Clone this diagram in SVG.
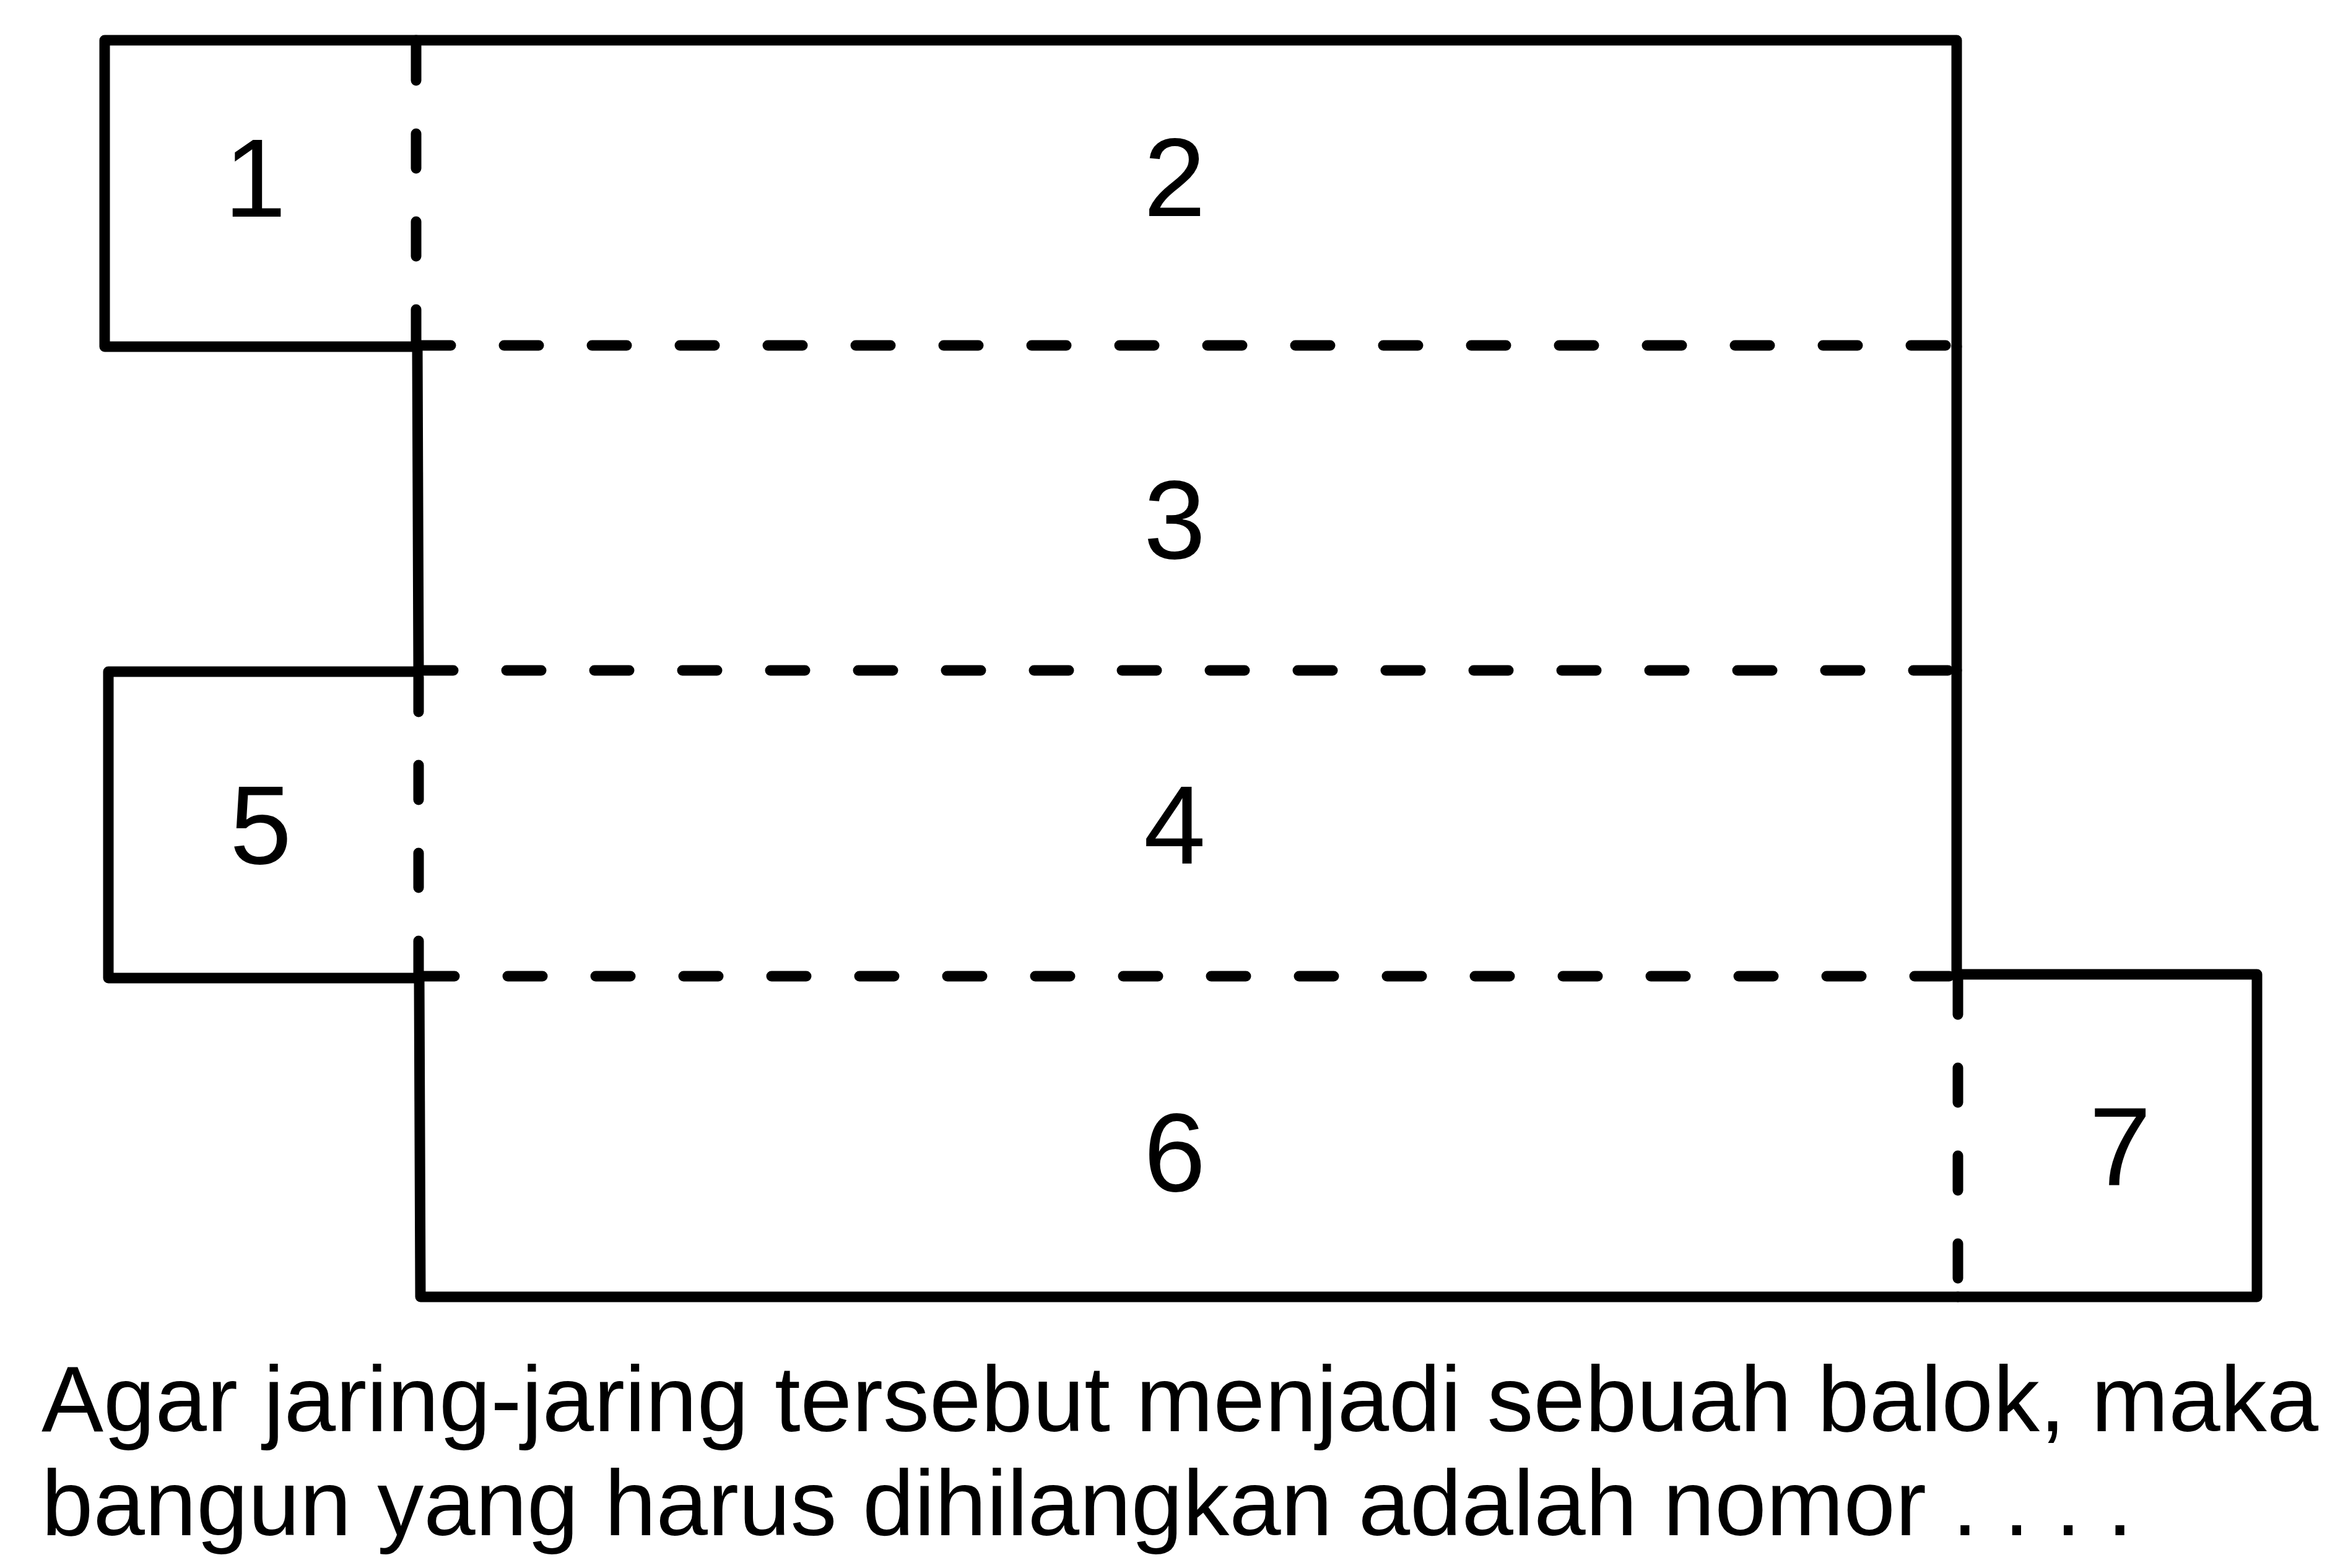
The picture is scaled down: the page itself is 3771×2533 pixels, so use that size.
<svg xmlns="http://www.w3.org/2000/svg" width="3771" height="2533" viewBox="0 0 3771 2533">
  <style>
    .solid { fill: none; stroke: #000; stroke-width: 17; stroke-linejoin: round; stroke-linecap: round; }
    .dash { fill: none; stroke: #000; stroke-width: 17; stroke-linecap: round; stroke-dasharray: 56 86; }
    .num { font-family: "Liberation Sans", Arial, sans-serif; font-size: 180px; fill: #000; text-anchor: middle; }
    .q { font-family: "Liberation Sans", Arial, sans-serif; font-size: 150px; fill: #000; }
  </style>
  <rect width="3771" height="2533" fill="#fff"/>
  <g id="face-1">
    <path class="solid" d="M672 65 L169 65 L169 560 L672 560"/>
    <text class="num" x="412" y="350">1</text>
  </g>
  <g id="face-2">
    <path class="solid" d="M672 65 L3160 65 L3160 560"/>
    <text class="num" x="1897" y="349">2</text>
  </g>
  <g id="face-3">
    <path class="solid" d="M674 560 L676 1085"/>
    <path class="solid" d="M3160 560 L3160 1083"/>
    <text class="num" x="1897" y="902">3</text>
  </g>
  <g id="face-4">
    <path class="solid" d="M3160 1083 L3160 1576"/>
    <text class="num" x="1897" y="1395">4</text>
  </g>
  <g id="face-5">
    <path class="solid" d="M676 1085 L175 1085 L175 1580 L676 1580"/>
    <text class="num" x="421" y="1395">5</text>
  </g>
  <g id="face-6">
    <path class="solid" d="M677 1580 L679 2095 L3162 2095"/>
    <text class="num" x="1897" y="1924">6</text>
  </g>
  <g id="face-7">
    <path class="solid" d="M3162 1574 L3645 1574 L3645 2095 L3162 2095"/>
    <text class="num" x="3424" y="1915">7</text>
  </g>
  <g id="connectors">
    <path class="dash" d="M672 74 L672 560"/>
    <path class="dash" d="M676 1094 L676 1580"/>
    <path class="dash" d="M3162 1583 L3162 2095"/>
    <path class="dash" d="M672 558 L3160 558"/>
    <path class="dash" d="M676 1083 L3160 1083"/>
    <path class="dash" d="M678 1577 L3160 1577"/>
  </g>
  <g id="question">
    <text class="q" x="67" y="2312">Agar jaring-jaring tersebut menjadi sebuah balok, maka</text>
    <text class="q" x="67" y="2480">bangun yang harus dihilangkan adalah nomor . . . .</text>
  </g>
</svg>
